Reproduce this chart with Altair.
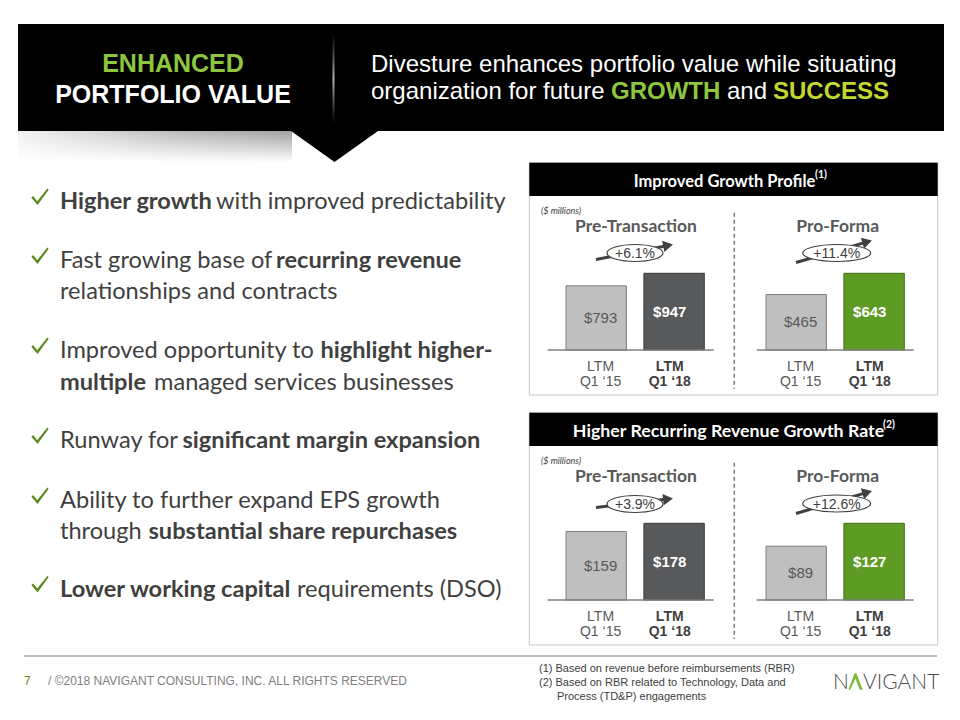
import math
import altair as alt
import pandas as pd

# ---------------- data ----------------
header_left = ["ENHANCED", "PORTFOLIO VALUE"]
header_right_1 = "Divesture enhances portfolio value while situating"
header_right_2 = ["organization for future", "GROWTH", "and", "SUCCESS"]

bullet_lines = [
    ["Higher growth", "with improved predictability"],
    ["Fast growing base of", "recurring revenue"],
    ["relationships and contracts"],
    ["Improved opportunity to", "highlight higher-"],
    ["multiple", "managed services businesses"],
    ["Runway for", "significant margin expansion"],
    ["Ability to further expand EPS growth"],
    ["through", "substantial share repurchases"],
    ["Lower working capital", "requirements (DSO)"],
]
bullet_emphasis = [
    [True, False], [False, True], [False], [False, True], [True, False],
    [False, True], [False], [False, True], [True, False],
]
bullet_first_lines = [0, 1, 3, 5, 6, 8]

panel_titles = ["Improved Growth Profile", "Higher Recurring Revenue Growth Rate"]
panel_notes = ["(1)", "(2)"]
unit_note = "($ millions)"
groups = ["Pre-Transaction", "Pro-Forma"]
periods = ["LTM Q1 \u201815", "LTM Q1 \u201818"]
period_top = ["LTM", "LTM"]
period_bottom = ["Q1 \u201815", "Q1 \u201818"]
growth_pre = [793, 947]
growth_pro = [465, 643]
recurring_pre = [159, 178]
recurring_pro = [89, 127]
panel_values = [[growth_pre, growth_pro], [recurring_pre, recurring_pro]]
growth_rates = [["+6.1%", "+11.4%"], ["+3.9%", "+12.6%"]]

footer_page = "7"
footer_copy = "/ \u00a92018 NAVIGANT CONSULTING, INC. ALL RIGHTS RESERVED"
footnotes = [
    "(1)  Based on revenue before reimbursements (RBR)",
    "(2)  Based on RBR related to Technology, Data and",
    "Process (TD&P) engagements",
]
logo_parts = ["N", "VIGANT"]

# ---------------- layout ----------------
OFF = 8
W, H = 944, 704
XS = alt.Scale(domain=[OFF, OFF + W], range=[0, W], nice=False, zero=False)
YS = alt.Scale(domain=[OFF, OFF + H], range=[0, H], nice=False, zero=False)

ARIAL = "Liberation Sans, Arial, sans-serif"
BODY = "Lato, Carlito, Calibri, sans-serif"
GREEN = "#8DC63F"
YGREEN = "#C2D82E"
DARK = "#404040"

layers = []


def cx(f="x"):
    return alt.X(f"{f}:Q", scale=XS, axis=None)


def cy(f="y"):
    return alt.Y(f"{f}:Q", scale=YS, axis=None)


def rect(x1, y1, x2, y2, **mk):
    df = pd.DataFrame({"x": [x1], "x2": [x2], "y": [y1], "y2": [y2]})
    return alt.Chart(df).mark_rect(**mk).encode(
        x=cx("x"), x2=alt.X2("x2"), y=cy("y"), y2=alt.Y2("y2"))


def rule(x1, y1, x2, y2, **mk):
    df = pd.DataFrame({"x": [x1], "x2": [x2], "y": [y1], "y2": [y2]})
    return alt.Chart(df).mark_rule(**mk).encode(
        x=cx("x"), x2=alt.X2("x2"), y=cy("y"), y2=alt.Y2("y2"))


def texts(xs, ys, strs, **mk):
    df = pd.DataFrame({"x": xs, "y": ys, "text": strs})
    return alt.Chart(df).mark_text(**mk).encode(x=cx("x"), y=cy("y"), text="text:N")


# --- header band ---
layers.append(rect(18, 24, 944, 131, fill="#000000"))
layers.append(rect(18, 131, 292, 162, fill={
    "gradient": "linear", "x1": 0, "y1": 0, "x2": 1, "y2": 0,
    "stops": [{"offset": 0, "color": "#f2f2f2"}, {"offset": 0.55, "color": "#bdbdbd"},
              {"offset": 1, "color": "#a0a0a0"}]}))
layers.append(rect(18, 131, 292, 162, fill={
    "gradient": "linear", "x1": 0, "y1": 0, "x2": 0, "y2": 1,
    "stops": [{"offset": 0, "color": "rgba(255,255,255,0)"},
              {"offset": 1, "color": "rgba(255,255,255,1)"}]}))
tri = pd.DataFrame({"x": [291, 334.5, 378], "y": [131, 131, 131], "y2": [131, 162, 131]})
layers.append(alt.Chart(tri).mark_area(color="#000000", interpolate="linear").encode(
    x=cx("x"), y=cy("y"), y2=alt.Y2("y2")))
layers.append(rect(332.5, 34, 334.5, 124, fill={
    "gradient": "linear", "x1": 0, "y1": 0, "x2": 0, "y2": 1,
    "stops": [{"offset": 0, "color": "rgba(160,160,160,0)"}, {"offset": 0.5, "color": "rgba(200,200,200,0.9)"},
              {"offset": 1, "color": "rgba(160,160,160,0)"}]}))

layers.append(texts([173], [72], [header_left[0]], align="center", baseline="alphabetic",
                    font=ARIAL, fontSize=25, fontWeight="bold", color=GREEN))
layers.append(texts([173], [103], [header_left[1]], align="center", baseline="alphabetic",
                    font=ARIAL, fontSize=25, fontWeight="bold", color="#FFFFFF"))
layers.append(texts([371], [72], [header_right_1], align="left", baseline="alphabetic",
                    font=ARIAL, fontSize=24, color="#FFFFFF"))
hx = [371, 611, 727, 773]
hcol = ["#FFFFFF", GREEN, "#FFFFFF", YGREEN]
hbold = [False, True, False, True]
for t, x, c, b in zip(header_right_2, hx, hcol, hbold):
    kw = dict(align="left", baseline="alphabetic", font=ARIAL, fontSize=24, color=c)
    if b:
        kw["fontWeight"] = "bold"
    layers.append(texts([x], [99], [t], **kw))

# --- bullets ---
line_base = [209.3, 268.3, 299.3, 358.3, 390, 448.3, 508.3, 539.3, 596.7]
seg_x = [[60, 216], [60, 276], [60], [60, 320.5], [60, 154], [60, 182.5], [60], [60, 148.5], [60, 297]]
bx, by, bt, nx, ny, nt = [], [], [], [], [], []
for li, segs in enumerate(bullet_lines):
    for si, s in enumerate(segs):
        if bullet_emphasis[li][si]:
            bx.append(seg_x[li][si]); by.append(line_base[li]); bt.append(s)
        else:
            nx.append(seg_x[li][si]); ny.append(line_base[li]); nt.append(s)
layers.append(texts(nx, ny, nt, align="left", baseline="alphabetic", font=BODY, fontSize=23.6, color="#3F3F3F"))
layers.append(texts(bx, by, bt, align="left", baseline="alphabetic", font=BODY, fontSize=23.6,
                    fontWeight="bold", color="#3F3F3F"))
CHECK = "M-1,0.1L-0.8,-0.08L-0.32,0.5L0.84,-0.95L1,-0.82L-0.28,0.95Z"
chk = pd.DataFrame({"x": [40] * len(bullet_first_lines),
                    "y": [line_base[i] - 12.5 for i in bullet_first_lines]})
layers.append(alt.Chart(chk).mark_point(shape=CHECK, filled=True, color="#5A8A1E", size=300,
                                        opacity=1).encode(x=cx("x"), y=cy("y")))

# --- right panels ---
ROW_TOP = [162.7, 412.7]
ROW_BOTTOM = [395, 645]
BOX_X = [529.3, 937.7]
HEAD_H = 33.3
ROW_BASE = [350, 600]
BAR_MAXH = 76.7
GROUP_BARS = [[566, 704.3], [766, 904.3]]
GROUP_AXIS = [[547.7, 713.7], [756.7, 913.7]]
GROUP_CX = [636, 837.7]
TITLE_CX = [724.5, 728.5]
TITLE_SIZE = [16.5, 17.8]
NOTE_X = [815, 883]
OVAL_W = [56, 68]
OVAL_Y = [[253, 253], [504, 503.5]]
ARROWS = [[[(596, 259.5), (673, 244.5)], [(796, 262.5), (872, 240.5)]],
          [[(596, 507.5), (673, 498.5)], [(796, 513.5), (872, 491)]]]
light_fill, light_stroke = "#BFBFBF", "#7F7F7F"
new_fill = ["#58595B", "#5E9B24"]
new_stroke = ["#3A3A3A", "#3F6E12"]


def ellipse(ratio):
    return f"M-1,0A1,{ratio},0,1,1,1,0A1,{ratio},0,1,1,-1,0Z"


for r in range(2):
    top, bot = ROW_TOP[r], ROW_BOTTOM[r]
    layers.append(rect(BOX_X[0], top, BOX_X[1], bot, fill="#FFFFFF", stroke="#C8C8C8", strokeWidth=1))
    layers.append(rect(BOX_X[0], top, BOX_X[1], top + HEAD_H, fill="#000000"))
    layers.append(texts([TITLE_CX[r]], [top + 24.3], [panel_titles[r]], align="center", baseline="alphabetic",
                        font=BODY, fontSize=TITLE_SIZE[r], fontWeight="bold", color="#FFFFFF"))
    layers.append(texts([NOTE_X[r]], [top + 15.5], [panel_notes[r]], align="left", baseline="alphabetic",
                        font=BODY, fontSize=10.5, fontWeight="bold", color="#FFFFFF"))
    layers.append(texts([541], [top + 51], [unit_note], align="left", baseline="alphabetic",
                        font=BODY, fontSize=9, fontStyle="italic", color=DARK))
    layers.append(rule(734.3, top + 50, 734.3, bot - 6, stroke="#6F7D8F", strokeWidth=1.5, strokeDash=[4, 3]))
    for g in range(2):
        layers.append(texts([GROUP_CX[g]], [top + 69], [groups[g]], align="center", baseline="alphabetic",
                            font=BODY, fontSize=17.5, fontWeight="bold", color="#595959"))
        (x0, y0), (x1, y1) = ARROWS[r][g]
        ang = math.atan2(y1 - y0, x1 - x0)
        ex, ey = x1 - 5 * math.cos(ang), y1 - 5 * math.sin(ang)
        ln = pd.DataFrame({"x": [x0, ex], "y": [y0, ey]})
        layers.append(alt.Chart(ln).mark_line(color=DARK, strokeWidth=3).encode(x=cx("x"), y=cy("y")))
        hd = pd.DataFrame({"x": [ex], "y": [ey], "a": [(math.degrees(ang) + 360) % 360]})
        layers.append(alt.Chart(hd).mark_point(shape="triangle-right", filled=True, color=DARK, size=130,
                                                opacity=1).encode(
            x=cx("x"), y=cy("y"), angle=alt.Angle("a:Q", scale=None)))
        ov = pd.DataFrame({"x": [GROUP_CX[g] - 1], "y": [OVAL_Y[r][g]]})
        layers.append(alt.Chart(ov).mark_point(shape=ellipse(round(17 / OVAL_W[g], 3)), filled=True,
                                                fill="#FFFFFF", stroke=DARK, strokeWidth=1.2,
                                                size=OVAL_W[g] ** 2, opacity=1).encode(x=cx("x"), y=cy("y")))
        layers.append(texts([GROUP_CX[g] - 1], [OVAL_Y[r][g] + 5], [growth_rates[r][g]], align="center",
                            baseline="alphabetic", font=ARIAL, fontSize=14, color=DARK))

        values = panel_values[r][g]
        df = pd.DataFrame({"period": periods, "value": values,
                           "label": ["$" + str(v) for v in values],
                           "l1": period_top, "l2": period_bottom})
        base = ROW_BASE[r] - OFF
        xsc = alt.Scale(domain=periods, range=[GROUP_BARS[g][0] - OFF, GROUP_BARS[g][1] - OFF],
                        paddingInner=0.225, paddingOuter=0)
        ysc = alt.Scale(domain=[0, max(values)], range=[base, base - BAR_MAXH], nice=False, zero=True)
        X = alt.X("period:N", scale=xsc, axis=None)
        Y = alt.Y("value:Q", scale=ysc, axis=None)
        for i in range(2):
            c = alt.Chart(df.iloc[[i]])
            if i == 0:
                bar_kw = dict(fill=light_fill, stroke=light_stroke)
                lab_kw = dict(color="#595959")
                cat_kw = dict(color="#595959")
            else:
                bar_kw = dict(fill=new_fill[g], stroke=new_stroke[g])
                lab_kw = dict(color="#FFFFFF", fontWeight="bold")
                cat_kw = dict(color=DARK, fontWeight="bold")
            layers.append(c.mark_bar(strokeWidth=1, **bar_kw).encode(x=X, y=Y))
            layers.append(c.transform_calculate(mid="datum.value / 2").mark_text(
                align="center", baseline="middle", font=ARIAL, fontSize=15, **lab_kw).encode(
                x=X, y=alt.Y("mid:Q", scale=ysc, axis=None), text="label:N"))
            layers.append(c.mark_text(align="center", baseline="middle", font=ARIAL, fontSize=14, **cat_kw).encode(
                x=X, y=alt.value(base + 16.7), text="l1:N"))
            layers.append(c.mark_text(align="center", baseline="middle", font=ARIAL, fontSize=14, **cat_kw).encode(
                x=X, y=alt.value(base + 31.7), text="l2:N"))
        layers.append(rule(GROUP_AXIS[g][0], ROW_BASE[r], GROUP_AXIS[g][1], ROW_BASE[r],
                           stroke="#7F7F7F", strokeWidth=1.5))

# --- footer ---
layers.append(rule(24, 656, 937, 656, stroke="#7F7F7F", strokeWidth=1.2))
layers.append(texts([24], [685], [footer_page], align="left", baseline="alphabetic", font=ARIAL,
                    fontSize=12, color="#6A8B2A"))
layers.append(texts([48], [685], [footer_copy], align="left", baseline="alphabetic", font=ARIAL,
                    fontSize=12, color="#808080"))
layers.append(texts([539, 539, 557], [672, 686, 700], footnotes, align="left", baseline="alphabetic",
                    font=ARIAL, fontSize=11, color=DARK))
layers.append(texts([833, 863], [689, 689], logo_parts, align="left", baseline="alphabetic", font=BODY,
                    fontSize=21, fontWeight=300, color="#4D4D4F"))
lam = pd.DataFrame({"x": [855.5], "y": [681.5]})
layers.append(alt.Chart(lam).mark_point(
    shape="M-1,1.15L-0.14,-1.15L0.14,-1.15L1,1.15L0.6,1.15L0,-0.4L-0.75,1.15Z",
    filled=True, color="#7DB93A", size=200, opacity=1).encode(x=cx("x"), y=cy("y")))

chart = alt.layer(*layers).resolve_scale(x="independent", y="independent").properties(
    width=W, height=H, padding=0, autosize="none", background="#FFFFFF"
).configure_view(stroke=None)

chart.save("out.html", embed_options={"renderer": "svg", "actions": False})
